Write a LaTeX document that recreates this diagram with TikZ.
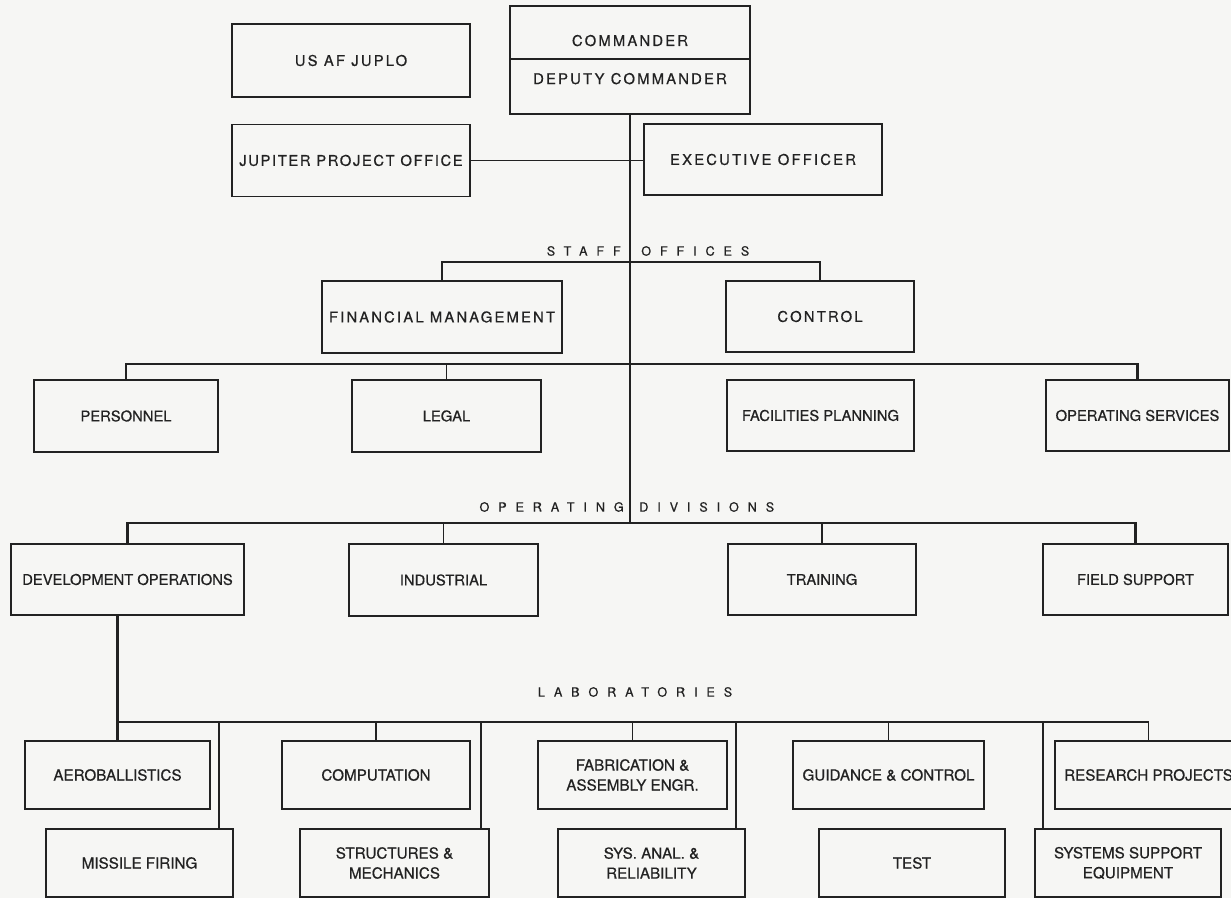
\documentclass[tikz,border=0pt]{standalone}
\usepackage{fontspec}
\setmainfont{TeX Gyre Heros}[FakeBold=0.6]
\newfontfamily\trackfont{TeX Gyre Heros}[LetterSpace=15, FakeBold=0.6]
\newfontfamily\narrowtrack{TeX Gyre Heros}[LetterSpace=11, FakeBold=0.6]
\newfontfamily\headfont{TeX Gyre Heros}[LetterSpace=70, FakeBold=0.5]
\usepackage{tikz}
\usetikzlibrary{positioning, calc}
\definecolor{inkgray}{HTML}{222222}
\definecolor{paper}{HTML}{F6F6F4}

\begin{document}
\begin{tikzpicture}[x=0.025cm, y=-0.025cm,
    unit/.style={rectangle, draw=inkgray, line width=1pt, text=inkgray,
                 minimum height=1.8cm, align=center, inner sep=1pt,
                 font=\fontsize{10.5}{13}\selectfont},
    staff/.style={unit, font=\trackfont\fontsize{10.5}{13}\selectfont},
    lab/.style={unit, minimum height=1.7cm,
                font=\fontsize{10.8}{14.2}\selectfont},
    grp/.style={text=inkgray, inner sep=0pt,
                font=\headfont\fontsize{9}{11}\selectfont},
    conn/.style={draw=inkgray, line width=1.3pt},
    bar/.style={conn, line width=1.6pt},
    node distance=0.6cm
]
    \useasboundingbox (0,0) rectangle (1231,898);
    \fill[paper] (0,0) rectangle (1231,898);
    \clip (0,0) rectangle (1231,898);

    % Command
    \node[staff, minimum width=6cm, minimum height=1.325cm, text height=0.68cm] (cmd) at (630,32.5) {COMMANDER};
    \node[staff, minimum width=6cm, minimum height=1.375cm, text depth=0.4cm, below=-1pt of cmd] (dep) {DEPUTY COMMANDER};
    \node[staff, minimum width=5.95cm, minimum height=1.825cm] (juplo) at (351,60.5) {US AF JUPLO};
    \node[staff, font=\narrowtrack\fontsize{10.5}{13}\selectfont, minimum width=5.95cm, below=0.65cm of juplo] (jpo) {JUPITER PROJECT OFFICE};
    \node[staff, minimum width=5.95cm, minimum height=1.775cm] (exo) at (763,159.5) {EXECUTIVE OFFICER};

    % Staff offices
    \node[staff, minimum width=6cm] (fin) at (442,317) {FINANCIAL MANAGEMENT};
    \node[staff, minimum width=4.7cm, minimum height=1.775cm] (ctl) at (820,316.5) {CONTROL};
    \node[unit, minimum width=4.6cm] (pers) at (126,416) {PERSONNEL};
    \node[unit, minimum width=4.725cm] (legal) at (446.5,416) {LEGAL};
    \node[unit, minimum width=4.675cm, minimum height=1.775cm] (fac) at (820.5,415.5) {FACILITIES PLANNING};
    \node[unit, minimum width=4.575cm, minimum height=1.775cm] (opsv) at (1137.5,415.5) {OPERATING SERVICES};

    % Operating divisions
    \node[unit, minimum width=5.825cm, minimum height=1.775cm] (devop) at (127.5,579.5) {DEVELOPMENT OPERATIONS};
    \node[unit, minimum width=4.725cm] (ind) at (443.5,580) {INDUSTRIAL};
    \node[unit, minimum width=4.7cm, minimum height=1.775cm] (trn) at (822,579.5) {TRAINING};
    \node[unit, minimum width=4.625cm, minimum height=1.775cm] (fld) at (1135.5,579.5) {FIELD SUPPORT};

    % Laboratories
    \node[lab, minimum width=4.625cm] (aero) at (117.5,775) {AEROBALLISTICS};
    \node[lab, minimum width=4.7cm] (comp) at (376,775) {COMPUTATION};
    \node[lab, minimum width=4.725cm] (fab) at (632.5,775) {FABRICATION \&\\ASSEMBLY ENGR.};
    \node[lab, minimum width=4.775cm] (gnc) at (888.5,775) {GUIDANCE \& CONTROL};
    \node[lab, minimum width=4.675cm] (rsch) at (1148.5,775) {RESEARCH PROJECTS};
    \node[lab, minimum width=4.675cm] (mf) at (139.5,863) {MISSILE FIRING};
    \node[lab, minimum width=4.725cm] (sm) at (394.5,863) {STRUCTURES \&\\MECHANICS};
    \node[lab, minimum width=4.675cm] (sys) at (651.5,863) {SYS. ANAL. \&\\RELIABILITY};
    \node[lab, minimum width=4.65cm] (test) at (912,863) {TEST};
    \node[lab, minimum width=4.65cm] (sse) at (1128,863) {SYSTEMS SUPPORT\\EQUIPMENT};

    % Group titles
    \node[grp, anchor=east] (staffw) at (621,251) {STAFF};
    \node[grp, anchor=west] (officew) at (641,251) {OFFICES};
    \node[grp, anchor=east] (operw) at (624,507) {OPERATING};
    \node[grp, anchor=west] (divw) at (639,507) {DIVISIONS};
    \node[grp] (labw) at (635,692) {LABORATORIES};

    % Connectors
    \coordinate (sfj) at (630,262);
    \coordinate (stj) at (630,364);
    \coordinate (opj) at (630,523);
    \coordinate (labj) at (119,722);

    \draw[bar] (dep.south) -- (opj);
    \draw[conn] (jpo.east) -- (jpo.east -| exo.west);

    \draw[bar] (fin.north) |- (sfj) -| (ctl.north);
    \draw[bar] (pers.north) |- (stj) -| (opsv.north);
    \draw[conn] (legal.north) -- (legal.north |- stj);

    \draw[bar] (devop.north) |- (opj) -| (fld.north);
    \draw[conn] (ind.north) -- (ind.north |- opj);
    \draw[conn] (trn.north) -- (trn.north |- opj);

    \draw[bar] (devop.south -| aero.north) -- (aero.north);
    \draw[conn] (aero.north |- labj) -| (rsch.north);
    \foreach \nd in {comp, fab, gnc}
        \draw[conn] (\nd.north) -- (\nd.north |- labj);
    \foreach \nd/\px in {mf/219, sm/481, sys/736, sse/1043} {
        \coordinate (tap\nd) at (\px,722);
        \draw[conn] (tap\nd) -- (tap\nd |- \nd.north);
    }
\end{tikzpicture}
\end{document}
